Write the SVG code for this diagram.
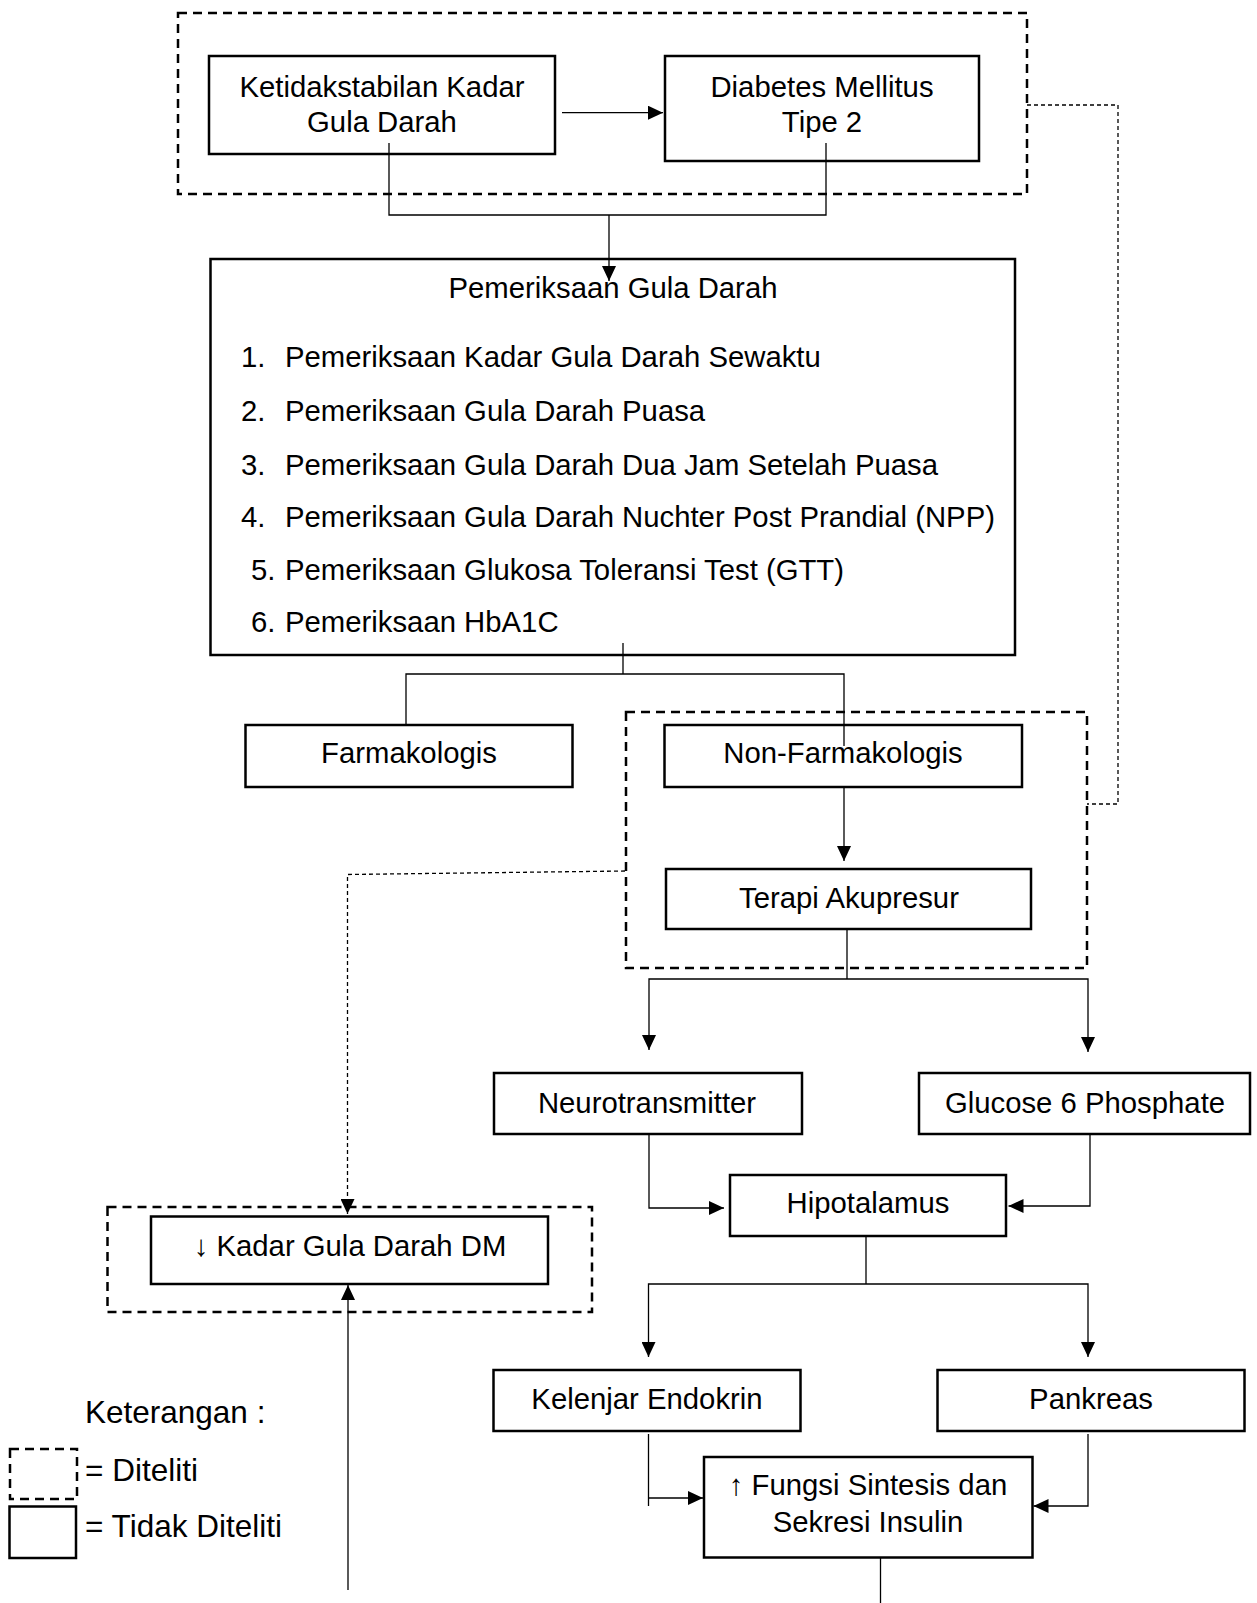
<svg xmlns="http://www.w3.org/2000/svg" width="1257" height="1603" viewBox="0 0 1257 1603">
<style>
  text { font-family: "Liberation Sans", Arial, sans-serif; font-size: 29.3px; fill: #000; }
  .c { text-anchor: middle; }
  .leg { font-size: 31.5px; }
  .box { fill: #fff; stroke: #000; stroke-width: 2.5; }
  .dbox { fill: none; stroke: #000; stroke-width: 2.5; stroke-dasharray: 9 6; }
  .ln { fill: none; stroke: #000; stroke-width: 1.3; }
  .dot { fill: none; stroke: #000; stroke-width: 1.3; stroke-dasharray: 4 3; }
</style>
<defs>
  <marker id="ah" markerUnits="userSpaceOnUse" markerWidth="15" markerHeight="14" refX="15" refY="7" orient="auto">
    <path d="M0,0 L15,7 L0,14 z" fill="#000"/>
  </marker>
</defs>
<rect width="1257" height="1603" fill="#fff"/>

<!-- dashed groupings (diteliti) -->
<g id="group-top">
  <rect class="dbox" x="178" y="13" width="849" height="181"/>
</g>
<g id="group-nonfarm">
  <rect class="dbox" x="626" y="712" width="461" height="256"/>
</g>
<g id="group-kadar">
  <rect class="dbox" x="107.5" y="1207" width="484.5" height="105"/>
</g>

<!-- nodes -->
<g id="n-ketidakstabilan">
  <rect class="box" x="209" y="56" width="346" height="98"/>
  <text class="c" x="382" y="96.7">Ketidakstabilan Kadar</text>
  <text class="c" x="382" y="131.7">Gula Darah</text>
</g>
<g id="n-dm">
  <rect class="box" x="665" y="56" width="314" height="105"/>
  <text class="c" x="822" y="96.7">Diabetes Mellitus</text>
  <text class="c" x="822" y="131.7">Tipe 2</text>
</g>
<g id="n-pemeriksaan">
  <rect class="box" x="210.5" y="259" width="804.5" height="396"/>
  <text class="c" x="613" y="298">Pemeriksaan Gula Darah</text>
  <text x="241" y="367">1.</text><text x="285" y="367">Pemeriksaan Kadar Gula Darah Sewaktu</text>
  <text x="241" y="421">2.</text><text x="285" y="421">Pemeriksaan Gula Darah Puasa</text>
  <text x="241" y="475">3.</text><text x="285" y="475">Pemeriksaan Gula Darah Dua Jam Setelah Puasa</text>
  <text x="241" y="527">4.</text><text x="285" y="527">Pemeriksaan Gula Darah Nuchter Post Prandial (NPP)</text>
  <text x="251" y="580">5.</text><text x="285" y="580">Pemeriksaan Glukosa Toleransi Test (GTT)</text>
  <text x="251" y="632">6.</text><text x="285" y="632">Pemeriksaan HbA1C</text>
</g>
<g id="n-farmakologis">
  <rect class="box" x="245.5" y="725" width="327" height="62"/>
  <text class="c" x="409" y="763">Farmakologis</text>
</g>
<g id="n-nonfarmakologis">
  <rect class="box" x="664.5" y="725" width="357.5" height="62"/>
  <text class="c" x="843" y="763">Non-Farmakologis</text>
</g>
<g id="n-akupresur">
  <rect class="box" x="666" y="869" width="365" height="60"/>
  <text class="c" x="849" y="908">Terapi Akupresur</text>
</g>
<g id="n-neurotransmitter">
  <rect class="box" x="494" y="1073" width="308" height="61"/>
  <text class="c" x="647" y="1112.7">Neurotransmitter</text>
</g>
<g id="n-g6p">
  <rect class="box" x="919" y="1073" width="331" height="61"/>
  <text class="c" x="1085" y="1112.7">Glucose 6 Phosphate</text>
</g>
<g id="n-hipotalamus">
  <rect class="box" x="730" y="1175" width="276" height="61"/>
  <text class="c" x="868" y="1213.3">Hipotalamus</text>
</g>
<g id="n-kadar">
  <rect class="box" x="151" y="1216.5" width="397" height="67.5"/>
  <text class="c" x="350" y="1256">↓ Kadar Gula Darah DM</text>
</g>
<g id="n-endokrin">
  <rect class="box" x="493.5" y="1370" width="307" height="61"/>
  <text class="c" x="647" y="1409.3">Kelenjar Endokrin</text>
</g>
<g id="n-pankreas">
  <rect class="box" x="937.5" y="1370" width="307" height="61"/>
  <text class="c" x="1091" y="1409.3">Pankreas</text>
</g>
<g id="n-fungsi">
  <rect class="box" x="704" y="1457" width="328.5" height="100.5"/>
  <text class="c" x="868" y="1495">↑ Fungsi Sintesis dan</text>
  <text class="c" x="868" y="1531.7">Sekresi Insulin</text>
</g>

<!-- connectors -->
<g id="connectors">
  <line class="ln" x1="562" y1="112.7" x2="663" y2="112.7" marker-end="url(#ah)"/>
  <polyline class="ln" points="389,143 389,215 826,215 826,143"/>
  <line class="ln" x1="609" y1="215" x2="609" y2="281" marker-end="url(#ah)"/>
  <line class="ln" x1="623" y1="643" x2="623" y2="674"/>
  <polyline class="ln" points="406,725 406,674 844,674 844,746"/>
  <line class="ln" x1="844" y1="787" x2="844" y2="861" marker-end="url(#ah)"/>
  <line class="ln" x1="847" y1="929" x2="847" y2="979"/>
  <polyline class="ln" points="847,979 649,979 649,1050" marker-end="url(#ah)"/>
  <polyline class="ln" points="847,979 1088,979 1088,1052" marker-end="url(#ah)"/>
  <polyline class="ln" points="649,1134 649,1208 724,1208" marker-end="url(#ah)"/>
  <polyline class="ln" points="1090,1134 1090,1206 1008.5,1206" marker-end="url(#ah)"/>
  <line class="ln" x1="866" y1="1236" x2="866" y2="1284"/>
  <polyline class="ln" points="866,1284 648.5,1284 648.5,1357" marker-end="url(#ah)"/>
  <polyline class="ln" points="866,1284 1088,1284 1088,1357" marker-end="url(#ah)"/>
  <line class="ln" x1="648.5" y1="1434" x2="648.5" y2="1506"/>
  <line class="ln" x1="648.5" y1="1498" x2="703" y2="1498" marker-end="url(#ah)"/>
  <polyline class="ln" points="1088,1434 1088,1506 1033.5,1506" marker-end="url(#ah)"/>
  <line class="ln" x1="880.5" y1="1557" x2="880.5" y2="1603"/>
  <line class="ln" x1="348" y1="1590" x2="348" y2="1285" marker-end="url(#ah)"/>
  <polyline class="dot" points="1027,105 1118,105 1118,804 1087,804"/>
  <polyline class="dot" points="625,871 347.5,874.5 347.5,1214" marker-end="url(#ah)"/>
</g>

<!-- legend -->
<g id="legend">
  <text class="leg" x="85" y="1423">Keterangan :</text>
  <rect class="dbox" x="10" y="1449" width="67" height="50"/>
  <text class="leg" x="85" y="1480.7">= Diteliti</text>
  <rect class="box" x="9.5" y="1506.5" width="66.5" height="51.5"/>
  <text class="leg" x="85" y="1536.7">= Tidak Diteliti</text>
</g>
</svg>
